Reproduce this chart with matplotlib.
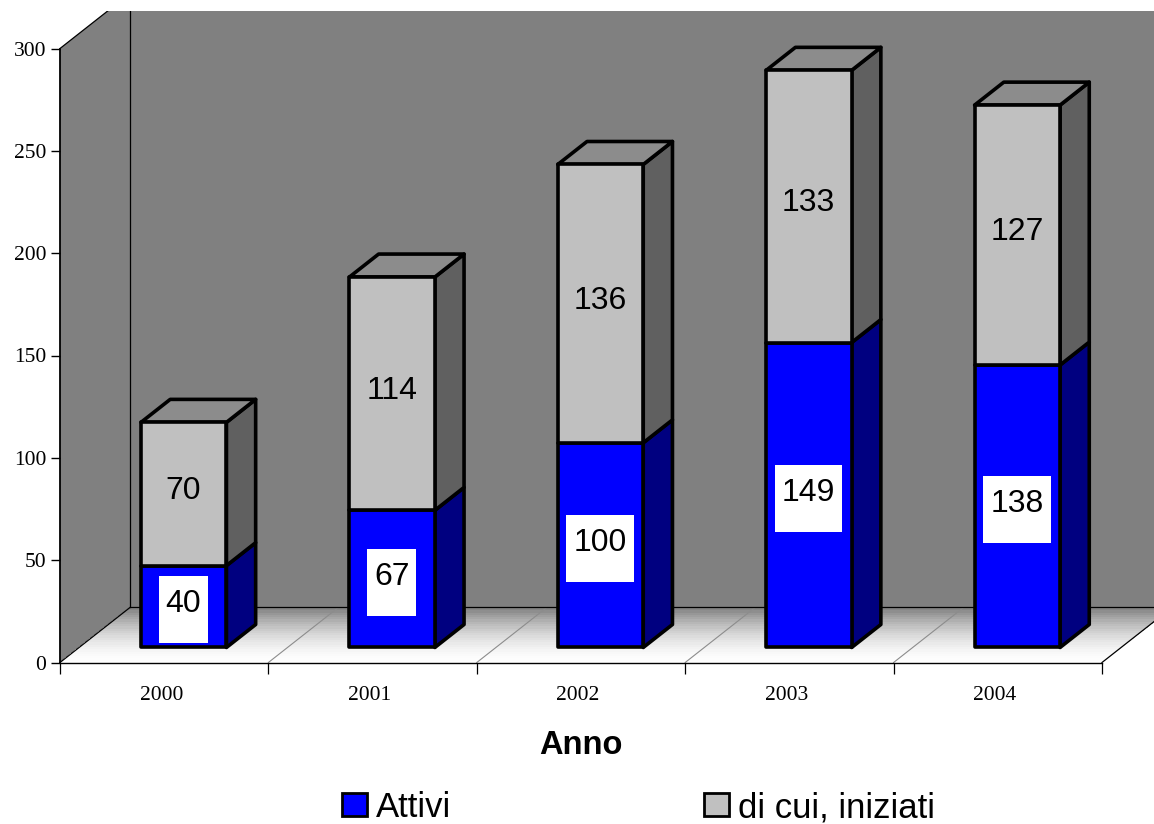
import numpy as np
import matplotlib
matplotlib.use("Agg")
import matplotlib.pyplot as plt
from matplotlib.patches import Polygon, Rectangle, Patch
from matplotlib.transforms import IdentityTransform

years = ["2000", "2001", "2002", "2003", "2004"]
attivi = [40, 67, 100, 149, 138]
iniziati = [70, 114, 136, 133, 127]
y_ticks = [0, 50, 100, 150, 200, 250, 300]

# fake 3d: depth 0 is the front of the floor, 1 the back wall
DX = 0.336
DY = 26.9
BAR_W = 0.41
BAR_FRONT = 0.273
BAR_BACK = 0.69
WALL_END = 5.0


def proj(x, y, d):
    return (x + d * DX, y + d * DY)


W, H = 1154, 824
fig = plt.figure(figsize=(W / 100, H / 100), dpi=100, facecolor="white")
ax = fig.add_axes([60 / W, (H - 662.5) / H, 1042 / W, 614 / H])
ax.set_xlim(0, 5)
ax.set_ylim(0, 300)
ax.patch.set_visible(False)

# top of the picture is cut off
top_clip = Rectangle((0, 0), 1, (H - 11) / H, transform=fig.transFigure)

wall_side = Polygon([proj(0, 0, 0), proj(0, 0, 1), proj(0, 300, 1), proj(0, 300, 0)],
                    fc="#808080", ec="none", clip_on=True, zorder=1)
wall_back = Polygon([proj(0, 0, 1), proj(WALL_END, 0, 1), proj(WALL_END, 300, 1), proj(0, 300, 1)],
                    fc="#808080", ec="none", clip_on=True, zorder=1)
for p in (wall_side, wall_back):
    ax.add_patch(p)
    p.set_clip_path(top_clip)

# floor, banded gradient
bands = np.linspace(0, 1, 25)
for k in range(len(bands) - 1):
    d0, d1 = bands[k], bands[k + 1]
    g = 0.995 - (0.995 - 0.502) * ((d0 + d1) / 2) ** 1.8
    ax.add_patch(Polygon([proj(0, 0, d0), proj(WALL_END, 0, d0), proj(WALL_END, 0, d1), proj(0, 0, d1)],
                         fc=(g, g, g), ec="none", antialiased=False, clip_on=False, zorder=1.1))

# floor dividers and edges
for i in range(1, 5):
    a, b = proj(i, 0, 0), proj(i, 0, 1)
    ax.plot([a[0], b[0]], [a[1], b[1]], color="#8c8c8c", lw=0.8, clip_on=False, zorder=1.2)
for pts in ([proj(0, 0, 0), proj(0, 0, 1)], [proj(5, 0, 0), proj(5, 0, 1)], [proj(0, 0, 1), proj(WALL_END + 1, 0, 1)]):
    ax.plot([pts[0][0], pts[1][0]], [pts[0][1], pts[1][1]], color="black", lw=0.9, clip_on=False, zorder=1.3)
line, = ax.plot(*zip(proj(0, 0, 1), proj(0, 300, 1)), color="black", lw=0.9, clip_on=True, zorder=1.3)
line.set_clip_path(top_clip)
line, = ax.plot(*zip(proj(0, 300, 0), proj(0, 300, 1)), color="black", lw=0.9, clip_on=True, zorder=1.3)
line.set_clip_path(top_clip)


def bar_part(x0, y0, y1, front, side, top=None):
    x1 = x0 + BAR_W
    kw = dict(ec="black", lw=2.6, joinstyle="round", clip_on=False, zorder=2)
    ax.add_patch(Polygon([proj(x1, y0, BAR_FRONT), proj(x1, y0, BAR_BACK), proj(x1, y1, BAR_BACK), proj(x1, y1, BAR_FRONT)],
                         fc=side, **kw))
    if top:
        ax.add_patch(Polygon([proj(x0, y1, BAR_FRONT), proj(x1, y1, BAR_FRONT), proj(x1, y1, BAR_BACK), proj(x0, y1, BAR_BACK)],
                             fc=top, **kw))
    ax.add_patch(Polygon([proj(x0, y0, BAR_FRONT), proj(x1, y0, BAR_FRONT), proj(x1, y1, BAR_FRONT), proj(x0, y1, BAR_FRONT)],
                         fc=front, **kw))


labels = []
for i in range(len(years)):
    x0 = i + 0.5 - BAR_W / 2 + 0.002
    a, b = attivi[i], iniziati[i]
    bar_part(x0, 0, a, "#0000ff", "#000080")
    bar_part(x0, a, a + b, "#c0c0c0", "#606060", top="#8c8c8c")
    xc, yc = proj(i + 0.5, a / 2, BAR_FRONT)
    t1 = ax.text(xc, yc + 1, str(a), ha="center", va="center", fontsize=23,
                 family="Liberation Sans", color="black", zorder=4)
    xc, yc = proj(i + 0.5, a + b / 2, BAR_FRONT)
    ax.text(xc, yc + 1.5, str(b), ha="center", va="center", fontsize=23,
            family="Liberation Sans", color="black", zorder=4)
    labels.append(t1)

# white boxes behind the blue labels
fig.canvas.draw()
rend = fig.canvas.get_renderer()
for t in labels:
    bb = t.get_window_extent(rend)
    cx = (bb.x0 + bb.x1) / 2
    cy = (bb.y0 + bb.y1) / 2
    ax.add_patch(Rectangle((cx - bb.width / 2 - 7, cy - 39), bb.width + 14, 67, fc="white", ec="none",
                           transform=IdentityTransform(), clip_on=False, zorder=3))

for s in ("top", "right"):
    ax.spines[s].set_visible(False)
ax.spines["left"].set_linewidth(1.3)
ax.spines["bottom"].set_linewidth(1.0)
ax.spines["left"].set_zorder(1.5)
ax.spines["bottom"].set_zorder(1.5)

ax.set_yticks(y_ticks)
ax.set_yticklabels([str(v) for v in y_ticks], family="Liberation Serif", fontsize=15.5)
ax.tick_params(axis="y", length=6.5, width=1, pad=3.5)
ax.set_xticks(range(6))
ax.set_xticklabels([""] * 6)
ax.tick_params(axis="x", which="major", length=8, width=0.9)
ax.set_xticks(np.arange(len(years)) + 0.5 - 0.014, minor=True)
ax.set_xticklabels(years, minor=True, family="Liberation Serif", fontsize=15.5)
ax.tick_params(axis="x", which="minor", length=0, pad=17)

ax.set_xlabel("Anno", family="Liberation Sans", fontweight="bold", fontsize=23.5, labelpad=18)

handles = [Patch(fc="#0000ff", ec="black", lw=2), Patch(fc="#c0c0c0", ec="black", lw=2)]
fig.legend(handles, ["Attivi", "di cui, iniziati"], ncol=2, frameon=False,
           prop=dict(family="Liberation Sans", size=25),
           loc="lower left", bbox_to_anchor=(342 / W, 0), borderpad=0, borderaxespad=0,
           handlelength=0.72, handleheight=0.63, handletextpad=0.25, columnspacing=7.3)

fig.savefig("out.png", dpi=100)
